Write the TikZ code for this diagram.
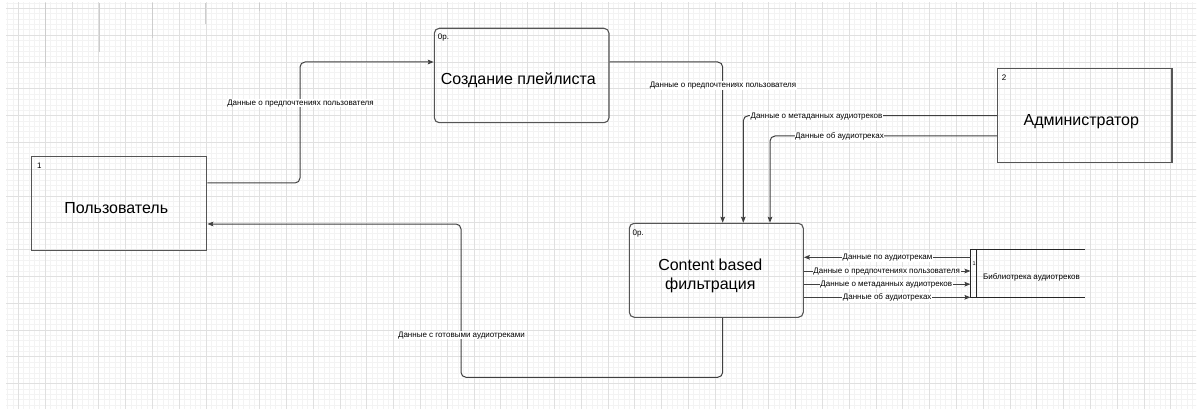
\documentclass[tikz,border=0pt]{standalone}
\usepackage{fontspec}
\setmainfont{Liberation Sans}
\usetikzlibrary{arrows.meta}

\definecolor{gridmajor}{RGB}{224,224,224}
\definecolor{gridminor}{RGB}{243,243,243}
\definecolor{gridmark}{RGB}{205,205,205}
\definecolor{edge}{RGB}{64,64,64}
\definecolor{frame}{RGB}{85,85,85}

\tikzset{
  shapebox/.style={draw=frame, line width=1.1pt, minimum width=#1, inner sep=0pt, minimum height=94pt},
  procbox/.style={shapebox=#1, rounded corners=5pt},
  idx/.style={font=\fontsize{8pt}{9pt}\selectfont, inner sep=0pt, anchor=north west},
  title/.style={font=\fontsize{16pt}{18.4pt}\selectfont, inner sep=0pt, anchor=base},
  flow/.style={draw=edge, line width=1pt, rounded corners=5pt},
  arr/.style={flow, -{Stealth[length=6pt,width=4.6pt,inset=1pt]}},
  lbl/.style={font=\fontsize{8pt}{9pt}\selectfont, fill=white, inner sep=0.6pt,
              text height=5.8pt, text depth=1.7pt, anchor=center},
}

\begin{document}
\begin{tikzpicture}[x=1pt, y=-1pt]
  \useasboundingbox (0,0) rectangle (1203,409);
  \fill[white] (0,0) rectangle (1203,409);

  % background grid
  \begin{scope}
    \clip (6,3) rectangle (1196,409);
    \foreach \i in {0,...,222} \draw[gridminor, line width=0.5pt] ({2.22+\i*5.36},0) -- ({2.22+\i*5.36},409);
    \foreach \j in {0,...,76} \draw[gridminor, line width=0.5pt] (0,{2.94+\j*5.36}) -- (1203,{2.94+\j*5.36});
    \foreach \i in {0,...,44} \draw[gridmajor, line width=0.6pt] ({18.3+\i*26.8},0) -- ({18.3+\i*26.8},409);
    \foreach \j in {0,...,15} \draw[gridmajor, line width=0.6pt] (0,{8.3+\j*26.8}) -- (1203,{8.3+\j*26.8});
    \foreach \x/\l in {45.7/67, 99/52, 152.3/38, 205.7/24, 259/11}
      \draw[gridmark, line width=0.6pt] (\x,3) -- (\x,\l);
  \end{scope}

  % external entities and processes
  \node[shapebox=175pt] (user) at (119.35,203.5) {};
  \node[procbox=174.7pt, minimum height=94.4pt] (playlist) at (521.65,75.5) {};
  \node[shapebox=174.3pt] (admin) at (1084.85,115.7) {};
  \node[procbox=174pt] (filter) at (716.3,270.3) {};

  \node[title] (usertxt) at (116.2,213.3) {Пользователь};
  \node[title] (playlisttxt) at (518.3,84.3) {Создание плейлиста};
  \node[title] (admintxt) at (1081.3,125.3) {Администратор};
  \node[title, align=center] (filtertxt) at (710.3,289) {Content based\\фильтрация};

  \node[idx] (useridx) at ([shift={(5.6pt,-6.7pt)}]user.north west) {1};
  \node[idx] (playlistidx) at ([shift={(4pt,-6pt)}]playlist.north west) {0р.};
  \node[idx] (adminidx) at ([shift={(4.6pt,-6.6pt)}]admin.north west) {2};
  \node[idx] (filteridx) at ([shift={(3.6pt,-7.2pt)}]filter.north west) {0р.};

  % data store
  \node[minimum width=114.3pt, minimum height=47pt, inner sep=0pt] (lib) at (1027.85,273.5) {};
  \draw[black!85, line width=1.3pt] (lib.north east) -- (lib.north west) -- (lib.south west) -- (lib.south east);
  \draw[black!85, line width=1.1pt] ([xshift=6pt]lib.north west) -- ([xshift=6pt]lib.south west);
  \node[font=\fontsize{8pt}{9pt}\selectfont, inner sep=0pt, text height=5.8pt, text depth=1.7pt, anchor=west] (libtxt) at (983,277.7) {Библиотрека аудиотреков};
  \node[font=\fontsize{5.5pt}{6pt}\selectfont, inner sep=0pt, anchor=north west] (libidx) at (972.4,261.8) {1};

  % data flows
  \draw[arr] (user.east |- 0,183) -- (300,183) -- (300,62) -- (playlist.west |- 0,62);
  \draw[arr] (playlist.east |- 0,62) -| (filter.north -| 722.7,0);
  \draw[arr] (admin.west |- 0,115.7) -| (filter.north -| 743.3,0);
  \draw[arr] (admin.west |- 0,136) -| (filter.north -| 770,0);
  \draw[arr] (filter.south -| 722.7,0) -- (722.7,377.3) -- (461,377.3) -- (461,224) -- (user.east |- 0,224);
  \draw[arr] (lib.west |- 0,257.3) -- (filter.east |- 0,257.3);
  \draw[arr] (filter.east |- 0,271) -- (lib.west |- 0,271);
  \draw[arr] (filter.east |- 0,284.2) -- (lib.west |- 0,284.2);
  \draw[arr] (filter.east |- 0,297.3) -- (lib.west |- 0,297.3);

  % flow labels
  \node[lbl] (l1) at (300.5,103) {Данные о предпочтениях пользователя};
  \node[lbl] (l2) at (723,85.5) {Данные о предпочтениях пользователя};
  \node[lbl] (l3) at (816.5,116) {Данные о метаданных аудиотреков};
  \node[lbl] (l4) at (839.5,136.5) {Данные об аудиотреках};
  \node[lbl] (l5) at (461.5,335) {Данные с готовыми аудиотреками};
  \node[lbl] (l6) at (887.5,257.3) {Данные по аудиотрекам};
  \node[lbl] (l7) at (886.7,271) {Данные о предпочтениях пользователя};
  \node[lbl] (l8) at (886.3,284.2) {Данные о метаданных аудиотреков};
  \node[lbl] (l9) at (887.2,297.3) {Данные об аудиотреках};
\end{tikzpicture}
\end{document}
